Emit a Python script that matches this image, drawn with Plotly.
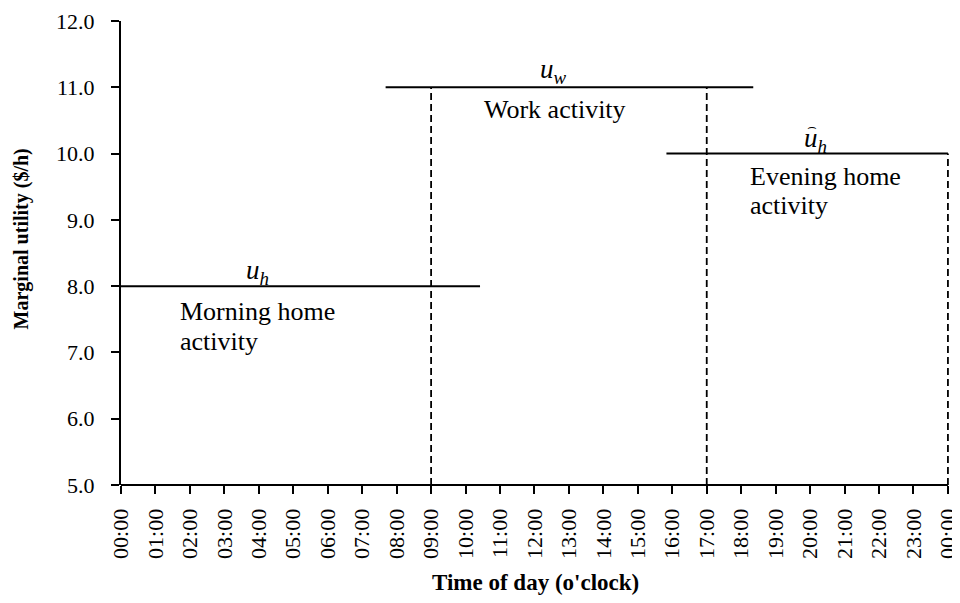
import plotly.graph_objects as go

# ---- data ----
activities = ["Morning home activity", "Work activity", "Evening home activity"]
label_lines = [["Morning home", "activity"], ["Work activity"], ["Evening home", "activity"]]
symbols = ["<i>u</i><sub><i>h</i></sub>", "<i>u</i><sub><i>w</i></sub>", "<i>u</i><sub><i>h</i></sub>"]
symbol_hat = [False, False, True]
start_hours = [0.0, 7.68, 15.83]
end_hours = [10.42, 18.35, 24.0]
utility = [8.0, 11.0, 10.0]
boundary_hours = [9, 17, 24]
boundary_utility = [11.0, 11.0, 10.0]
tick_hours = list(range(0, 25))
tick_labels = [f"{h % 24:02d}:00" for h in tick_hours]
y_ticks = [5, 6, 7, 8, 9, 10, 11, 12]

FONT = "Liberation Serif, Times New Roman, serif"

fig = go.Figure()

# horizontal marginal-utility segments
for name, s, e, u in zip(activities, start_hours, end_hours, utility):
    fig.add_trace(go.Scatter(x=[s, e], y=[u, u], mode="lines",
                             line=dict(color="black", width=2),
                             name=name, showlegend=False, hoverinfo="skip"))

# dashed boundaries
for h, u in zip(boundary_hours, boundary_utility):
    fig.add_trace(go.Scatter(x=[h, h], y=[5, u], mode="lines",
                             line=dict(color="black", width=1.8, dash="7px,4px"),
                             showlegend=False, hoverinfo="skip"))

# label placement (layout only)
label_anchor = [  # x, y of first line, xanchor
    (1.65, 7.61, "left"),
    (12.61, 10.66, "center"),
    (18.20, 9.66, "left"),
]
line_step = 0.45  # data units between wrapped lines
symbol_pos = [(3.95, 8.22), (12.54, 11.25), (20.17, 10.21)]

for i, lines in enumerate(label_lines):
    x0, y0, xa = label_anchor[i]
    for k, ln in enumerate(lines):
        fig.add_annotation(x=x0, y=y0 - k * line_step, text=ln, showarrow=False,
                           xanchor=xa, yanchor="middle",
                           font=dict(family=FONT, size=26, color="black"))
    sx, sy = symbol_pos[i]
    fig.add_annotation(x=sx, y=sy, text=symbols[i], showarrow=False,
                       xanchor="center", yanchor="middle",
                       font=dict(family=FONT, size=27, color="black"))
    if symbol_hat[i]:
        fig.add_annotation(x=sx, y=sy, text="\u2322", showarrow=False,
                           xanchor="center", yanchor="middle",
                           xshift=-4, yshift=13,
                           font=dict(family="DejaVu Sans", size=15, color="black"))

# axis titles
fig.add_annotation(x=0.5, y=-0.211, xref="paper", yref="paper",
                   text="<b>Time of day (o'clock)</b>", showarrow=False,
                   xanchor="center", yanchor="middle",
                   font=dict(family=FONT, size=23, color="black"))
fig.add_annotation(x=-0.1197, y=0.531, xref="paper", yref="paper",
                   text="<b>Marginal utility ($/h)</b>", showarrow=False,
                   textangle=-90, xanchor="center", yanchor="middle",
                   font=dict(family=FONT, size=20, color="black"))

fig.update_layout(
    width=952, height=595,
    margin=dict(l=113, r=10, t=13, b=118),
    paper_bgcolor="white", plot_bgcolor="white",
    font=dict(family=FONT, color="black"),
    showlegend=False,
)
fig.update_xaxes(
    range=[0, 24.06], tickmode="array", tickvals=tick_hours, ticktext=tick_labels,
    tickangle=-90, ticks="outside", ticklen=8, tickwidth=2, tickcolor="black",
    ticklabelstandoff=6, ticklabeloverflow="allow",
    showline=False, showgrid=False, zeroline=False,
    tickfont=dict(family=FONT, size=22, color="black"),
    automargin=False,
)
fig.update_yaxes(
    range=[5, 12], tickmode="array", tickvals=y_ticks,
    ticktext=[f"{v:.1f}" for v in y_ticks],
    ticks="outside", ticklen=8, tickwidth=2, tickcolor="black",
    ticklabelstandoff=12,
    showline=True, linecolor="black", linewidth=2, showgrid=False, zeroline=False,
    tickfont=dict(family=FONT, size=22, color="black"),
    automargin=False,
)
# x-axis baseline spanning 00:00 to 24:00 only
fig.add_shape(type="line", xref="x", yref="paper", x0=0, x1=24, y0=0, y1=0,
              line=dict(color="black", width=2))

fig.write_html("out.html")
